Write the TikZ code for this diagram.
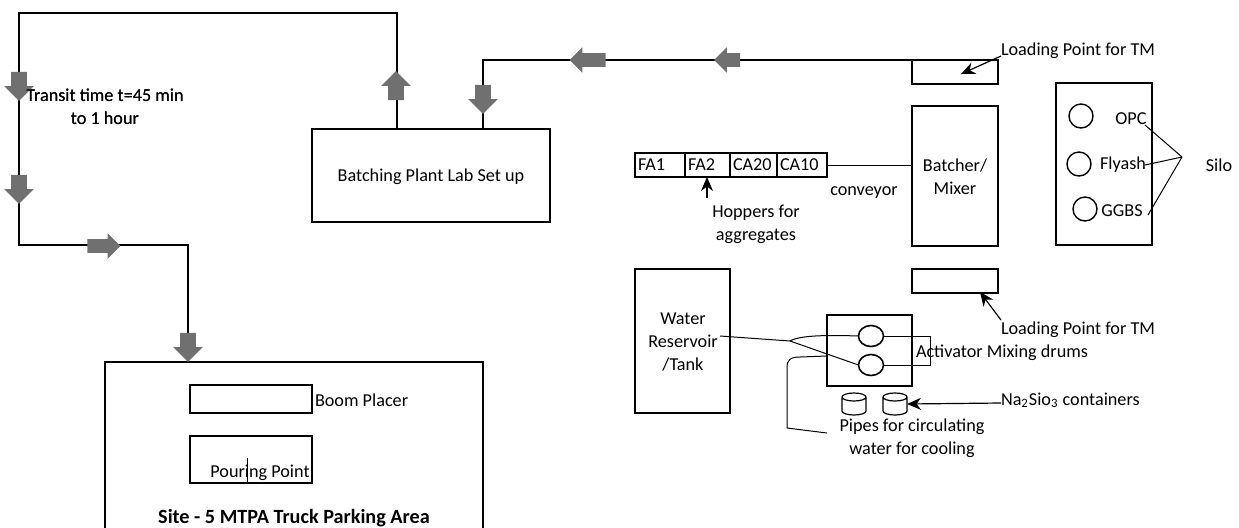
\documentclass[tikz,border=0pt]{standalone}
\usepackage{fontspec}
\setmainfont{Carlito}
\usepackage{xcolor}
\usetikzlibrary{arrows.meta,positioning,shapes.arrows,shapes.geometric}
\definecolor{flowgray}{HTML}{707070}

\begin{document}
\begin{tikzpicture}[
    x=0.5pt, y=-0.5pt,
    font=\fontsize{9.1}{11.5}\selectfont,
    box/.style={rectangle, draw, line width=1pt, inner sep=0pt, outer sep=0pt},
    cell/.style={box, line width=0.8pt, minimum height=12pt, inner xsep=1.5pt, align=left},
    drum/.style={ellipse, draw, line width=0.8pt, inner sep=0pt, outer sep=0pt,
        minimum width=12.5pt, minimum height=10.5pt},
    tub/.pic={
        \draw[line width=0.6pt] (-6pt,3.5pt) arc (180:540:6pt and 2pt)
            (-6pt,3.5pt) -- (-6pt,-3.5pt) arc (180:360:6pt and 2pt) -- (6pt,3.5pt);
        \coordinate (-east) at (6pt,0pt);
    },
    ring/.style={circle, draw, line width=0.7pt, minimum size=12pt, inner sep=0pt},
    txt/.style={inner sep=0pt, outer sep=0pt},
    pipe/.style={line width=0.5pt},
    flow/.style={line width=1pt},
    arr/.style={-{Stealth[length=7pt,width=6pt]}, line width=0.6pt},
    flowarr/.style={single arrow, fill=flowgray, inner sep=3.75pt, outer sep=0pt,
        minimum height=14.5pt, single arrow head extend=3.5pt},
    flowdown/.style={flowarr, shape border rotate=270},
    flowup/.style={flowarr, shape border rotate=90},
    flowright/.style={flowarr, shape border rotate=0, minimum height=16.5pt,
        inner sep=3.2pt, single arrow head extend=3pt},
    flowleft/.style={flowarr, shape border rotate=180, minimum height=13pt,
        inner sep=3.2pt, single arrow head extend=3pt},
]
\path[use as bounding box, clip] (0,0) rectangle (1239,527);

% ── Site (left bottom) ──
\node[box, minimum width=189pt, minimum height=110pt] (site) at (294,472) {};
\node[box, minimum width=61pt, minimum height=14pt] (boom) at (251,399) {};
\node[txt, right=1.5pt of boom, yshift=-0.5pt] (boomlabel) {Boom Placer};
\node[box, minimum width=61pt, minimum height=23.5pt, below=11.5pt of boom] (pour) {};
\node[txt] (pourlabel) at (260,473) {Pouring Point};
\coordinate (pourtop) at (247,458);
\coordinate (pourbot) at (247,483);
\node[txt, font=\fontsize{10.1}{12}\selectfont\bfseries] (sitelabel) at (294,518)
    {Site - 5 MTPA Truck Parking Area};

% ── Batching lab ──
\node[box, minimum width=119pt, minimum height=46.5pt] (lab) at (431,175.5) {};
\node[txt] (lablabel) at (431,177) {Batching Plant Lab Set up};
\node[txt, align=center] (transit) at (105,107)
    {Transit time t=45 min\\to 1 hour};

% ── Plant column ──
\node[box, minimum width=43pt, minimum height=12pt] (loadtop) at (955,72) {};
\node[box, minimum width=43pt, minimum height=70pt, below=11pt of loadtop] (mixer) {};
\node[txt, align=center] (mixerlabel) at (955,177) {Batcher/\\Mixer};
\node[box, minimum width=43pt, minimum height=12pt, below=11.5pt of mixer] (loadbot) {};
\node[txt, anchor=west] (loadtoplabel) at (1001,50.5) {Loading Point for TM};
\node[txt, anchor=west] (loadbotlabel) at (1001,329.5) {Loading Point for TM};

% ── Hoppers ──
\node[cell, text width=22pt] (fa1) at (660,165) {FA1};
\node[cell, text width=19.5pt, right=0pt of fa1] (fa2) {FA2};
\node[cell, text width=20.5pt, right=0pt of fa2] (ca20) {CA20};
\node[cell, text width=22pt, right=0pt of ca20] (ca10) {CA10};
\node[txt] (conveyor) at (864,193) {conveyor};
\node[txt, align=center] (hoppers) at (756,224.5) {Hoppers for\\aggregates};
\coordinate (hopfoot) at (707,198);

% ── Silo ──
\node[box, minimum width=48pt, minimum height=81pt] (silo) at (1104,164) {};
\node[ring] (opc) at (1081,116) {};
\node[ring] (fly) at (1079,164) {};
\node[ring] (ggbs) at (1085,209) {};
\node[txt] (opclabel) at (1131,119) {OPC};
\node[txt] (flylabel) at (1123,165) {Flyash};
\node[txt] (ggbslabel) at (1122,211) {GGBS};
\node[txt] (silolabel) at (1219,165) {Silo};
\coordinate (silojoin) at (1182,157);
\coordinate (opcfoot) at (1145,125);
\coordinate (flyfoot) at (1145,165);
\coordinate (ggbsfoot) at (1148,215);

% ── Water and drums ──
\node[box, minimum width=47.5pt, minimum height=72pt] (water) at (682.5,341) {};
\node[txt, align=center] (waterlabel) at (683,342) {Water\\Reservoir\\/Tank};
\node[box, minimum width=42.5pt, minimum height=35.5pt] (drums) at (869.5,350.5) {};
\node[drum] (drum1) at (871,336) {};
\node[drum] (drum2) at (871,365) {};
\node[txt, anchor=west] (drumlabel) at (916,353) {Activator Mixing drums};
\pic (tub1) at (854,404) {tub};
\pic (tub2) at (895,404) {tub};
\node[txt, anchor=west] (nalabel) at (1001,400) {Na\textsubscript{2}Sio\textsubscript{3} containers};
\node[txt, align=center] (pipes) at (912,438.5) {Pipes for circulating\\water for cooling};
\coordinate (tankout) at (720,336);
\coordinate (fork) at (790,341);
\coordinate (coolin) at (827,356);
\coordinate (coolout) at (827,433);

% ── Truck route ──
\coordinate (topleft) at (19,13);
\coordinate (topright) at (397,13);
\coordinate (bendleft) at (19,245);
\coordinate (bendright) at (188,245);
\coordinate (labin) at (483,60);
\draw[flow] (lab.north -| topright) -- (topright) -- (topleft) -- (bendleft)
    -- (bendright) -- (site.north -| bendright);
\draw[flow] (lab.north -| labin) -- (labin) -- (loadtop.north east);

% ── Thin connectors ──
\draw[line width=0.5pt] (pourtop) -- (pourbot);
\draw[pipe] (ca10) -- (mixer.west |- ca10);
\draw[arr] (hopfoot) -- (hopfoot |- fa2.south);
\draw[arr] (loadtoplabel.west) ++(0,5.5) -- (961,74);
\draw[arr] (loadbotlabel.west) ++(0,-9.5) -- (980,292);
\draw[arr] (nalabel.west) ++(0,3) -- (tub2-east);
\draw[pipe] (opcfoot) -- (silojoin);
\draw[pipe] (flyfoot) -- (silojoin);
\draw[pipe] (ggbsfoot) -- (silojoin);
\draw[pipe] (tankout) -- (fork) .. controls (800,335) and (830,335) .. (drum1.west);
\draw[pipe] (fork) -- (drum2.west);
\draw[pipe] (drum1.east) -- (930,336) -- (930,365) -- (drum2.east);
\draw[pipe] (coolin) -- (800,357) .. controls (790,357) and (787,360) .. (787,368)
    -- (787,428) -- (coolout);

% ── Route arrows ──
\node[flowdown] (down1) at (19,82.5) {};
\node[flowdown] (down2) at (19,185.5) {};
\node[flowright] (right1) at (100.5,246) {};
\node[flowdown] (down3) at (188,343.5) {};
\node[flowup] (up1) at (396,89.5) {};
\node[flowdown] (down4) at (483,95.5) {};
\node[flowleft, minimum height=18pt] (left1) at (591,60) {};
\node[flowleft] (left2) at (730.5,60) {};

% ── Text over the arrows ──
\node[txt, align=center] at (transit) {Transit time t=45 min\\to 1 hour};

\end{tikzpicture}
\end{document}
